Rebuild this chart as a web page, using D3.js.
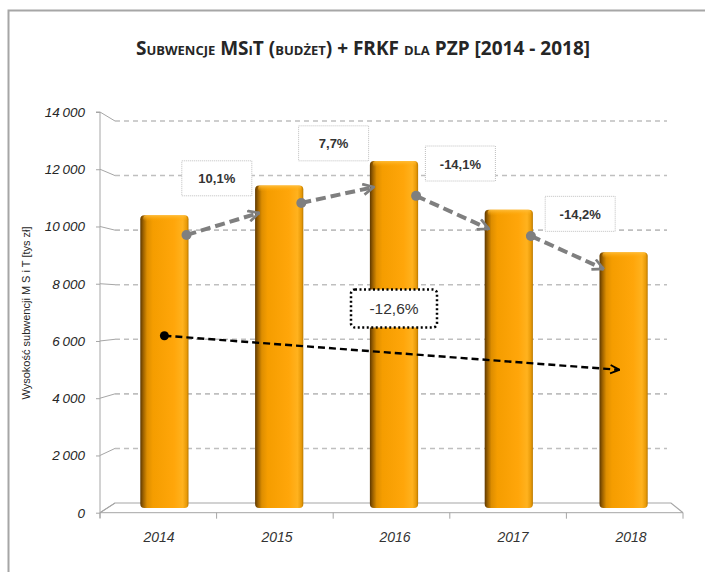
<!DOCTYPE html>
<html>
<head>
<meta charset="utf-8">
<script src="https://cdn.jsdelivr.net/npm/d3@7"></script>
<style>
  body { margin: 0; background: #fff; }
  svg { display: block; font-family: "Liberation Sans", Arial, sans-serif; }
</style>
</head>
<body>
<div id="chart"></div>
<script>
// data
var years = ["2014", "2015", "2016", "2017", "2018"]
var values = [10300, 11340, 12210, 10490, 9000]
var yTicks = [0, 2000, 4000, 6000, 8000, 10000, 12000, 14000]

// year on year change arrows (values where arrows start / end, tys zl)
var growthLabels = ["10,1%", "7,7%", "-14,1%", "-14,2%"]
var arrowFrom = [9605, 10730, 10980, 9570]
var arrowTo = [10380, 11290, 9820, 8410]
var labelAt = [11580, 12810, 12100, 10330]

// overall trend 2014 -> 2018
var trendLabel = "-12,6%"
var trendFrom = 6060
var trendTo = 4860
var trendLabelAt = 7020

var W = 705, H = 572

var svg = d3.select("#chart").append("svg")
  .attr("width", W)
  .attr("height", H)

var defs = svg.append("defs")

// orange bar shading, dark left side and light right edge
var grad = defs.append("linearGradient").attr("id", "barGrad")
  .attr("x1", "0%").attr("x2", "100%").attr("y1", "0%").attr("y2", "0%")
grad.selectAll("stop")
  .data([
    ["0%", "#5e3800"], ["6%", "#9a6000"], ["14%", "#de8e00"], ["26%", "#f59d00"],
    ["70%", "#ffa60a"], ["88%", "#ffb21e"], ["96%", "#e89a08"], ["100%", "#b87800"]
  ])
  .enter().append("stop")
  .attr("offset", function(d) { return d[0] })
  .attr("stop-color", function(d) { return d[1] })

var topGrad = defs.append("linearGradient").attr("id", "topGrad")
  .attr("x1", "0%").attr("x2", "0%").attr("y1", "0%").attr("y2", "100%")
topGrad.append("stop").attr("offset", "0%").attr("stop-color", "#ffc040").attr("stop-opacity", 0.9)
topGrad.append("stop").attr("offset", "100%").attr("stop-color", "#ffa500").attr("stop-opacity", 0)

// arrow heads
defs.append("marker").attr("id", "grayHead")
  .attr("viewBox", "0 0 12 12").attr("refX", 11).attr("refY", 6)
  .attr("markerWidth", 13).attr("markerHeight", 13)
  .attr("markerUnits", "userSpaceOnUse").attr("orient", "auto")
  .append("path").attr("d", "M1,1 L11,6 L1,11")
  .attr("fill", "none").attr("stroke", "#7f7f7f").attr("stroke-width", 2.5)

defs.append("marker").attr("id", "blackHead")
  .attr("viewBox", "0 0 12 12").attr("refX", 11).attr("refY", 6)
  .attr("markerWidth", 11).attr("markerHeight", 11)
  .attr("markerUnits", "userSpaceOnUse").attr("orient", "auto")
  .append("path").attr("d", "M1,1.5 L11,6 L1,10.5")
  .attr("fill", "none").attr("stroke", "#000").attr("stroke-width", 2)

// outer frame
svg.append("path")
  .attr("d", "M8.5," + (H + 5) + " L8.5,10.5 L" + (W + 5) + ",10.5")
  .attr("fill", "none").attr("stroke", "#a6a6a6").attr("stroke-width", 2)

// title
svg.append("text")
  .attr("x", 363).attr("y", 55)
  .attr("text-anchor", "middle")
  .style("font-family", "'Open Sans', 'Liberation Sans', sans-serif")
  .style("font-size", "19px")
  .style("font-weight", "bold")
  .style("font-variant", "small-caps")
  .attr("fill", "#262626")
  .text("Subwencje MSiT (budżet) + FRKF dla PZP [2014 - 2018]")

// scales: front axis, back wall, bars in the middle
var yFront = d3.scaleLinear().domain([0, 14000]).range([512.7, 112])
var yBack = d3.scaleLinear().domain([0, 14000]).range([503, 121])
var yBar = d3.scaleLinear().domain([0, 14000]).range([508, 110])

var xFront = d3.scaleBand().domain(years).range([100, 683])
var xLabel = d3.scaleBand().domain(years).range([100, 690])
var xBar = d3.scaleBand().domain(years).range([107, 681])
  .paddingInner(0.58).paddingOuter(0.29)

var backLeft = 115, backRight = 671

// back wall gridlines
svg.append("g").selectAll("line.grid")
  .data(yTicks.slice(1))
  .enter().append("line")
  .attr("class", "grid")
  .attr("x1", backLeft).attr("x2", backRight - 4)
  .attr("y1", function(d) { return yBack(d) })
  .attr("y2", function(d) { return yBack(d) })
  .attr("stroke", "#bfbfbf").attr("stroke-width", 1.6)
  .attr("stroke-dasharray", "5,4")

// diagonals from front ticks to back wall
svg.append("g").selectAll("line.diag")
  .data(yTicks)
  .enter().append("line")
  .attr("x1", 100).attr("x2", backLeft)
  .attr("y1", function(d) { return yFront(d) })
  .attr("y2", function(d) { return yBack(d) })
  .attr("stroke", "#a6a6a6").attr("stroke-width", 1)

// floor
svg.append("path")
  .attr("d", "M100," + yFront(0) + " L" + backLeft + "," + yBack(0) +
    " L" + backRight + "," + yBack(0) + " L683," + yFront(0))
  .attr("fill", "none").attr("stroke", "#a6a6a6").attr("stroke-width", 1.2)

// y axis (front)
var yAxis = d3.axisLeft(yFront)
  .tickValues(yTicks)
  .tickSize(4)
  .tickFormat(function(d) { return d3.format(",")(d).replace(",", "\u2009") })
var gy = svg.append("g").attr("transform", "translate(100,0)").call(yAxis)
gy.select(".domain").attr("stroke", "#a6a6a6").attr("d", "M-4,112H0V518")
gy.selectAll(".tick line").attr("stroke", "#a6a6a6")
gy.selectAll(".tick text")
  .attr("x", -15)
  .style("font-size", "13.5px")
  .style("font-style", "italic")
  .attr("fill", "#262626")

// x axis (front)
var xAxis = d3.axisBottom(xFront).tickSize(0).tickFormat("")
var gx = svg.append("g").attr("transform", "translate(0," + yFront(0) + ")").call(xAxis)
gx.select(".domain").attr("stroke", "#a6a6a6").attr("d", "M100,0H683")
gx.selectAll("line.xtick")
  .data(d3.range(6))
  .enter().append("line")
  .attr("class", "xtick")
  .attr("x1", function(i) { return 100 + i * xFront.step() })
  .attr("x2", function(i) { return 100 + i * xFront.step() })
  .attr("y1", 0).attr("y2", 6)
  .attr("stroke", "#a6a6a6")

// category labels
svg.append("g").selectAll("text.cat")
  .data(years)
  .enter().append("text")
  .attr("class", "cat")
  .attr("x", function(d) { return xLabel(d) + xLabel.bandwidth() / 2 })
  .attr("y", 542)
  .attr("text-anchor", "middle")
  .style("font-size", "14px")
  .style("font-style", "italic")
  .attr("fill", "#333")
  .text(function(d) { return d })

// y axis title
svg.append("text")
  .attr("transform", "translate(30,313) rotate(-90)")
  .attr("text-anchor", "middle")
  .style("font-size", "11px")
  .attr("fill", "#262626")
  .text("Wysokość  subwencji M S i T [tys zł]")

// bars
var bars = svg.append("g").selectAll("g.bar")
  .data(values)
  .enter().append("g")
  .attr("class", "bar")

bars.append("rect")
  .attr("x", function(d, i) { return xBar(years[i]) })
  .attr("y", function(d) { return yBar(d) })
  .attr("width", xBar.bandwidth())
  .attr("height", function(d) { return yBar(0) - yBar(d) })
  .attr("rx", 4).attr("ry", 4)
  .attr("fill", "url(#barGrad)")

bars.append("rect")
  .attr("x", function(d, i) { return xBar(years[i]) + 3 })
  .attr("y", function(d) { return yBar(d) })
  .attr("width", xBar.bandwidth() - 5)
  .attr("height", 6)
  .attr("rx", 3)
  .attr("fill", "url(#topGrad)")

// year on year arrows
var steps = d3.range(growthLabels.length).map(function(i) {
  return {
    x1: xBar(years[i]) + xBar.bandwidth() - 2,
    y1: yBar(arrowFrom[i]),
    x2: xBar(years[i + 1]) + 4,
    y2: yBar(arrowTo[i]),
    ly: yBar(labelAt[i]),
    label: growthLabels[i]
  }
})

svg.append("g").selectAll("line.step")
  .data(steps)
  .enter().append("line")
  .attr("x1", function(d) { return d.x1 })
  .attr("y1", function(d) { return d.y1 })
  .attr("x2", function(d) { return d.x2 })
  .attr("y2", function(d) { return d.y2 })
  .attr("stroke", "#7f7f7f").attr("stroke-width", 4)
  .attr("stroke-dasharray", "10,5")
  .attr("marker-end", "url(#grayHead)")

svg.append("g").selectAll("circle.step")
  .data(steps)
  .enter().append("circle")
  .attr("cx", function(d) { return d.x1 })
  .attr("cy", function(d) { return d.y1 })
  .attr("r", 5)
  .attr("fill", "#7f7f7f")

// label boxes, shifted a bit per label as in the original
var boxNudge = [-6, -4, 8, 13]
var boxes = svg.append("g").selectAll("g.lbl")
  .data(steps)
  .enter().append("g")
  .attr("transform", function(d, i) {
    return "translate(" + ((d.x1 + d.x2) / 2 + boxNudge[i]) + "," + d.ly + ")"
  })
boxes.append("rect")
  .attr("x", -35).attr("y", -18).attr("width", 70).attr("height", 35)
  .attr("fill", "#fff").attr("stroke", "#bfbfbf").attr("stroke-width", 1)
  .attr("stroke-dasharray", "1,1")
boxes.append("text")
  .attr("text-anchor", "middle").attr("dy", "0.35em")
  .style("font-size", "13px").style("font-weight", "bold")
  .attr("fill", "#333")
  .text(function(d) { return d.label })

// overall trend arrow
var tx1 = xBar(years[0]) + xBar.bandwidth() / 2
var tx2 = xBar(years[years.length - 1])
svg.append("line")
  .attr("x1", tx1).attr("y1", yBar(trendFrom))
  .attr("x2", tx2 + 20).attr("y2", yBar(trendTo))
  .attr("stroke", "#000").attr("stroke-width", 2.4)
  .attr("stroke-dasharray", "7,4")
  .attr("marker-end", "url(#blackHead)")
svg.append("circle")
  .attr("cx", tx1).attr("cy", yBar(trendFrom)).attr("r", 4.5)
  .attr("fill", "#000")

var tb = svg.append("g")
  .attr("transform", "translate(" + (xBar(years[2]) + xBar.bandwidth() / 2) + "," + yBar(trendLabelAt) + ")")
tb.append("rect")
  .attr("x", -43).attr("y", -19).attr("width", 86).attr("height", 38)
  .attr("rx", 4)
  .attr("fill", "#fff").attr("stroke", "#000").attr("stroke-width", 2.5)
  .attr("stroke-dasharray", "2,2.5")
tb.append("text")
  .attr("text-anchor", "middle").attr("dy", "0.35em")
  .style("font-size", "15.5px")
  .attr("fill", "#333")
  .text(trendLabel)
</script>
</body>
</html>
